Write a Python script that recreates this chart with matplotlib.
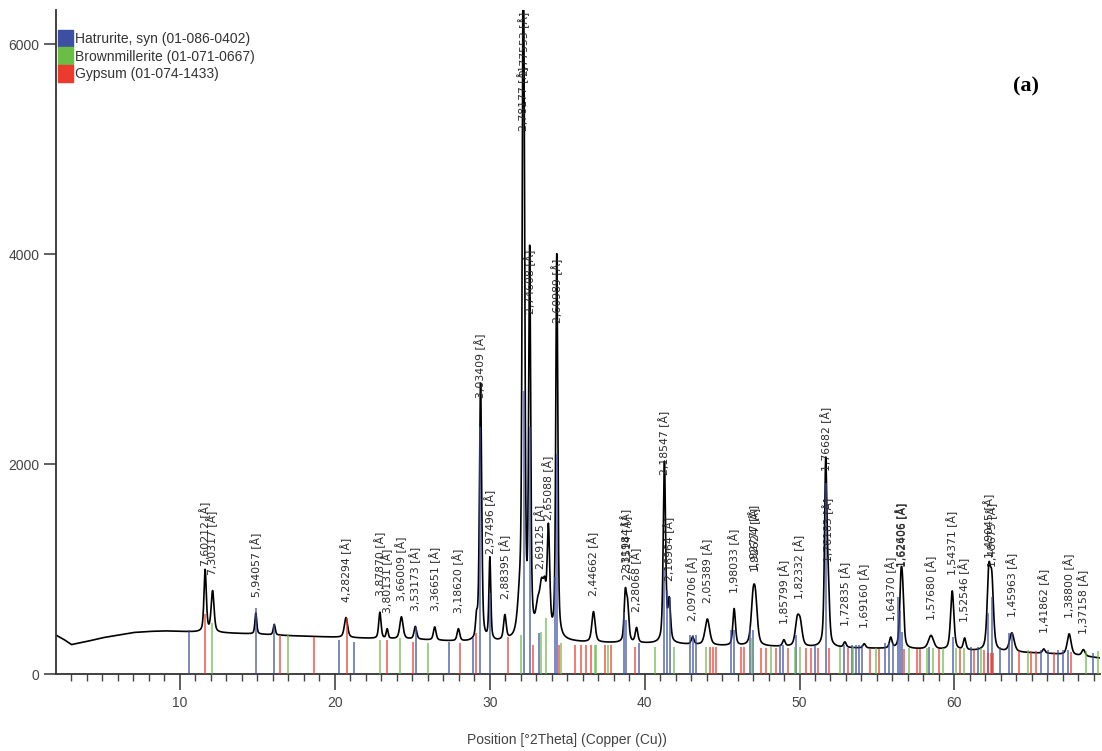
import numpy as np
import matplotlib
matplotlib.use("Agg")
import matplotlib.pyplot as plt
from matplotlib.patches import Patch

# ---- data ----
# background of the scan (2theta, counts)
bg_pos = [2.0, 2.5, 3.0, 4.0, 5.0, 6.0, 7.0, 8.0, 9.0, 10.0, 11.0, 13.0, 15.0, 17.0,
          19.0, 21.0, 23.0, 25.0, 27.0, 28.5, 30.5, 31.5, 33.0, 35.0, 36.0, 38.0, 40.0,
          42.0, 44.0, 46.0, 48.0, 50.0, 52.0, 54.0, 56.0, 58.0, 60.0, 62.0, 64.0,
          66.0, 68.0, 69.5]
bg_cts = [370, 330, 280, 310, 345, 370, 395, 405, 410, 405, 400, 390, 380, 365,
          355, 345, 335, 330, 315, 305, 300, 310, 330, 310, 300, 295, 290,
          285, 270, 265, 260, 255, 250, 245, 240, 235, 225, 215, 205,
          195, 175, 150]

# peaks: position, height above background, width
peak_pos = [11.63, 12.11, 14.90, 16.09, 20.72, 22.91, 23.38, 24.30, 25.20, 26.45,
            27.98, 29.15, 29.41, 30.01, 30.98, 31.95, 32.15, 32.23, 32.58, 33.10,
            33.35, 33.55, 33.79, 34.33, 36.70, 38.75, 38.90, 39.48, 41.28, 41.59,
            43.10, 44.05, 45.78, 47.00, 47.16, 48.99, 49.85, 50.05, 51.69, 51.85,
            52.93, 54.18, 55.89, 56.55, 56.66, 58.49, 59.86, 60.66, 62.22, 62.42,
            63.71, 65.77, 67.41, 68.33]
peak_hgt = [590, 390, 200, 100, 190, 250, 90, 210, 120, 125,
            115, 180, 2450, 780, 230, 320, 5000, 2900, 3600, 230,
            420, 330, 1000, 3650, 290, 430, 330, 140, 1720, 380,
            70, 250, 350, 380, 360, 60, 230, 200, 1700, 500,
            50, 40, 100, 560, 420, 130, 560, 110, 700, 600,
            180, 40, 200, 60]
peak_fwhm = [0.18, 0.22, 0.14, 0.15, 0.25, 0.18, 0.15, 0.25, 0.2, 0.2,
             0.2, 0.15, 0.17, 0.14, 0.2, 0.35, 0.14, 0.14, 0.15, 0.3,
             0.3, 0.22, 0.2, 0.15, 0.25, 0.18, 0.2, 0.2, 0.18, 0.2,
             0.2, 0.35, 0.2, 0.3, 0.3, 0.2, 0.3, 0.3, 0.18, 0.2,
             0.2, 0.2, 0.2, 0.2, 0.2, 0.4, 0.25, 0.2, 0.25, 0.25,
             0.35, 0.2, 0.3, 0.25]

# d-spacing labels [Å]
d_labels = ["7,60212", "7,30317", "5,94057", "4,28294", "3,87870", "3,80131",
            "3,66009", "3,53173", "3,36651", "3,18620", "3,03409", "2,97496",
            "2,88395", "2,78177", "2,77553", "2,74608", "2,69125", "2,65088",
            "2,60989", "2,44662", "2,31984", "2,31514", "2,28068", "2,18547",
            "2,16964", "2,09706", "2,05389", "1,98033", "1,92777", "1,92624",
            "1,85799", "1,82332", "1,76682", "1,76183", "1,72835", "1,69160",
            "1,64370", "1,62606", "1,62406", "1,57680", "1,54371", "1,52546",
            "1,49045", "1,48675", "1,45963", "1,41862", "1,38800", "1,37158"]

# reference patterns: position, height
hat_pos = [10.6, 14.88, 16.09, 20.28, 21.27, 25.22, 27.37, 28.92, 29.40, 30.0,
           32.19, 32.58, 33.16, 34.19, 34.34, 38.67, 38.82, 39.62, 41.27, 41.45,
           41.61, 42.9, 43.12, 43.33, 45.59, 45.74, 46.82, 46.99, 48.71, 48.92,
           49.79, 50.97, 51.72, 52.9, 53.4, 53.66, 53.87, 54.05, 55.55, 55.81,
           56.02, 56.34, 56.5, 56.63, 58.39, 59.89, 61.08, 61.5, 62.15, 62.43,
           62.97, 63.55, 63.7, 65.59, 66.02, 66.66, 66.99, 67.31, 68.92]
hat_hgt = [420, 630, 476, 324, 308, 450, 308, 340, 2350, 770,
           2700, 2350, 390, 920, 2100, 590, 514, 295, 1000, 800,
           730, 371, 371, 371, 420, 420, 448, 420, 280, 280,
           371, 280, 1820, 280, 280, 280, 280, 280, 300, 300,
           300, 730, 600, 400, 260, 352, 260, 260, 580, 730,
           260, 390, 390, 230, 230, 230, 230, 230, 200]

brm_pos = [12.1, 16.97, 22.9, 24.19, 26.04, 32.04, 33.33, 33.66, 34.62, 36.77,
           36.88, 37.63, 40.64, 41.87, 43.94, 46.95, 48.17, 49.68, 50.0, 52.6,
           53.44, 54.95, 57.1, 58.21, 58.6, 59.29, 60.11, 60.65, 61.72, 64.73,
           68.5, 69.25]
brm_hgt = [490, 380, 324, 343, 295, 370, 400, 533, 295, 280,
           280, 280, 260, 260, 260, 343, 260, 260, 260, 260,
           260, 250, 250, 250, 250, 250, 250, 250, 250, 230,
           220, 220]

gyp_pos = [11.61, 16.47, 18.65, 20.77, 23.4, 25.03, 28.11, 29.14, 31.16, 32.8,
           34.47, 35.48, 35.91, 36.24, 36.56, 37.42, 37.85, 39.35, 44.24, 44.4,
           44.63, 46.24, 46.4, 47.53, 47.85, 48.5, 49.25, 50.43, 50.75, 51.18,
           51.89, 53.12, 54.52, 55.16, 56.77, 57.57, 57.79, 59.03, 60.37, 61.29,
           61.94, 62.2, 62.35, 62.5, 64.19, 64.95, 65.27, 66.45, 67.53]
gyp_hgt = [570, 370, 355, 533, 324, 308, 300, 390, 352, 276,
           276, 276, 276, 276, 276, 276, 276, 257, 257, 257,
           257, 257, 257, 250, 250, 250, 250, 250, 250, 250,
           250, 250, 240, 240, 240, 240, 240, 240, 240, 230,
           230, 200, 200, 200, 220, 220, 220, 210, 210]

phases = ["Hatrurite, syn (01-086-0402)", "Brownmillerite (01-071-0667)", "Gypsum (01-074-1433)"]
phase_colors = ["#3c4fa3", "#6cbd45", "#ec3a2c"]

wavelength = 1.5406  # Cu K-alpha

# ---- profile ----
tt = np.arange(2.0, 69.5, 0.01)
counts = np.interp(tt, bg_pos, bg_cts)
for c, h, w in zip(peak_pos, peak_hgt, peak_fwhm):
    u = (tt - c) / w
    counts = counts + h * (0.5 * np.exp(-4 * np.log(2) * u ** 2) + 0.5 / (1 + 4 * u ** 2))

fig = plt.figure(figsize=(11.02, 7.51), dpi=100)
ax = fig.add_axes([56 / 1102, 77 / 751, 1044 / 1102, 664 / 751])
ymax = 6324

ax.plot(tt, counts, color="black", lw=1.2, zorder=2)

for pos, hgt, col in [(hat_pos, hat_hgt, phase_colors[0]),
                      (brm_pos, brm_hgt, phase_colors[1]),
                      (gyp_pos, gyp_hgt, phase_colors[2])]:
    ax.vlines(pos, 0, hgt, colors=col, lw=1.1, alpha=0.85, zorder=3)

# peak labels
n_capped = 0
for lab in d_labels:
    d = float(lab.replace(",", "."))
    x = 2 * np.degrees(np.arcsin(wavelength / (2 * d)))
    apex = np.interp(x, tt, counts)
    if apex > 0.85 * ymax:
        # off-scale peak: labels pushed against the top edge
        y = ymax - 1150 + 520 * n_capped
        n_capped += 1
    elif apex < 900:
        y = apex + 150
    elif apex < 1600:
        y = apex + 30
    elif apex < 3000:
        y = apex - 130
    else:
        y = apex - 650
    ax.text(x, y, lab + " [Å]", rotation=90, ha="center", va="bottom",
            fontsize=7.8, family="DejaVu Sans", color="#2a2a2a", zorder=4)

ax.set_xlim(2.0, 69.4)
ax.set_ylim(0, ymax)
ax.set_xticks([10, 20, 30, 40, 50, 60])
ax.set_xticks(np.arange(3, 70, 1), minor=True)
ax.set_yticks([0, 2000, 4000, 6000])
for s in ["top", "right"]:
    ax.spines[s].set_visible(False)
for s in ["left", "bottom"]:
    ax.spines[s].set_color("#333333")
    ax.spines[s].set_linewidth(1.3)

tick_font = ["Liberation Sans Narrow", "Liberation Sans"]
ax.tick_params(axis="x", which="major", direction="out", length=11.5, width=1.2,
               color="#444444", pad=4)
ax.tick_params(axis="x", which="minor", direction="out", length=5, width=1.0,
               color="#444444")
ax.tick_params(axis="y", which="major", direction="out", length=9, width=1.2,
               color="#444444", pad=3)
for t in ax.get_xticklabels() + ax.get_yticklabels():
    t.set_family(tick_font)
    t.set_fontsize(10)
    t.set_color("#444444")

handles = [Patch(facecolor=c, edgecolor=c) for c in phase_colors]
ax.legend(handles, phases, loc="upper left", bbox_to_anchor=(0.002, 0.97),
          frameon=False, handlelength=1.05, handleheight=1.55, handletextpad=0.2,
          labelspacing=0.0, borderpad=0, borderaxespad=0,
          prop={"family": tick_font, "size": 10}, labelcolor="#333333")

fig.text(567 / 1102, 1 - 740 / 751, "Position [°2Theta] (Copper (Cu))", ha="center",
         va="center", family=tick_font, fontsize=10, color="#444444")
fig.text(1026 / 1102, 1 - 86 / 751, "(a)", ha="center", va="center",
         family="Liberation Serif", fontweight="bold", fontsize=16)

fig.savefig("out.png", dpi=100, facecolor="white")
